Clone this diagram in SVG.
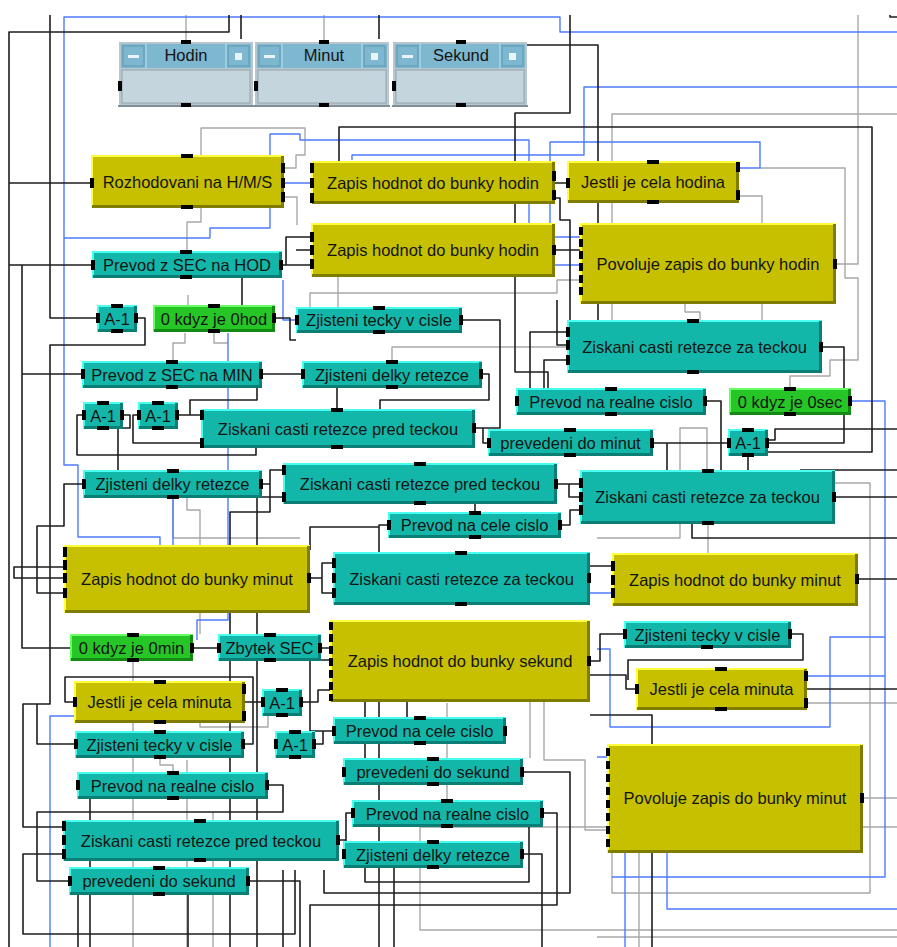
<svg xmlns="http://www.w3.org/2000/svg" width="897" height="947" viewBox="0 0 897 947">
<style>
.k{fill:none;stroke:#1e1e1e;stroke-width:1.6;stroke-linejoin:round}
.g{fill:none;stroke:#a8a8a8;stroke-width:1.4;stroke-linejoin:round}
.b{fill:none;stroke:#4d7bff;stroke-width:1.4;stroke-linejoin:round}
text{font-family:"Liberation Sans",Arial,sans-serif;font-size:16.5px;text-anchor:middle;fill:#141414}
.y{fill:#c6c000}.yl{fill:none;stroke:#ffff40;stroke-width:2}.yd{fill:none;stroke:#7f7c00;stroke-width:3}
.c{fill:#12b7a9}.cl{fill:none;stroke:#48fff0;stroke-width:2}.cd{fill:none;stroke:#0b7f75;stroke-width:3}
.n{fill:#26c626}.nl{fill:none;stroke:#66ff66;stroke-width:2}.nd{fill:none;stroke:#148a14;stroke-width:3}
.p{fill:#000}
.pf{fill:#b9c6ce}.pt{fill:#7db7d0}.pb{fill:#c5d5dd;stroke:#8fa3ae;stroke-width:1}
.ps{stroke:#a9d4e6;stroke-width:1.5}.psh{stroke:#7f8f99;stroke-width:2}
.pd{fill:#e8f4fa}
.pbt{fill:#7db7d0;stroke:#5f98b2;stroke-width:1}
</style>
<rect width="897" height="947" fill="#fff"/>
<g id="connectors">
<path class="g" d="M186,15V42M324,15V42M612,320V114H897M858,15V264H836M305,140V128H201V222H187V251M284,168H296V155H305V140M284,197H297V225M739,196H762V320M760,168H845V278H858V360H830V376H790V388M338,277V307M310,307V293H557V280H580M392,361V347H612M685,304V312H700V320M680,470V428H707V470M708,524V553M597,538H680V524M807,703H897M863,798H897M835,483H870V893H612V853M639,853V947M597,937H897M897,827H420V930H897M447,703V800M133,661V947M187,760V947M160,758V765H173V772M213,812V947M200,722V727H268V716M173,498V538H300M187,498V510H200V634M185,333V343H173V361M214,333V343H228M188,295V305M530,702V758M544,702V760H585V830H607"/>
<path class="b" d="M897,32H560V17H64V465H78V537H160V545M352,160V155H584V87H897M284,183H311M64,238H210V228H270V208M270,155V134H300V140H529V237H580M739,168H760V142H550V265H580M283,280V320H296M228,333V620H197V640M851,401H885V877H612M807,676H885M590,593H612M597,649H610V727H830V637H885M667,853V909H897M625,853V947M597,757H607M74,716H50V947M173,498V545"/>
<path class="k" d="M229,15V32H9V947M50,15V318H97M241,15V39M379,15V39M570,15V113H515V372H548V395M527,45H598V320M339,161V127H872V452H768M890,15V17H897M9,183H91M9,265H92M22,265V648H70M282,265H311M286,265V237H311M296,250H311M555,183H567M555,198H560V220H570V320M555,250H580M137,318H145V345H50V704H23V827H63M22,374H82M262,374H302M83,415H77V455H256V448M122,415H130V428H118V470M138,415H133V443H201M178,415H201M201,415H190V400H257V388M83,484H64V526H37V593H64M64,567H14V578H64M262,484H270V470H283M283,497H257V947M270,484V512H230V947M462,320H500V428H483V443H488M475,428H483M567,332H530V388M567,345H557V300M567,360H544V388M482,374H489V400H380V409M337,388V409M557,484H580M569,484V497H580M561,525H570V510H580M388,525H379V552M475,512V504M310,578H322V563H333M322,578V593H333M310,550V527H379M822,347H844V443H768M768,440H775V429H897M706,401H721V470M653,443H728M667,443V470M748,455V470M835,497H897M800,470H897M692,524V538H897M590,566H612M858,579H897M193,648H218M244,744H253V677H65V702H74M245,702H262M50,704H37V744H75M268,785H283V812H37V881H69M63,854H23V934H295V870M249,881H300V947M320,648H330M310,660H330M310,660V731H333M314,744H323V731M523,772H570V893H324V870M543,813H557V905H310V947M522,854H542V947M339,840H346V813H352M346,840V854H343M590,661H600V634H624M590,675H626V689H636M790,634H803V660H628V680M807,689H897M590,715H652V947M365,702V758M379,702V947M407,702V717M394,868V947M365,861V882H529V827M78,895V947M90,799V820M90,861V947M188,895V947M283,870V947M242,278V305M275,318H290V340H296M302,702H318V690H330"/>
</g>
<g id="hodin">
<rect class="pf" x="119" y="42" width="134" height="63"/>
<rect class="pt" x="121" y="44" width="130" height="24"/>
<path class="ps" d="M146,44V68M226,44V68"/>
<rect class="pbt" x="123" y="46" width="21" height="20"/>
<rect class="pd" x="128" y="55" width="11" height="3"/>
<rect class="pbt" x="228" y="46" width="21" height="20"/>
<rect class="pd" x="235" y="53" width="7" height="7"/>
<rect class="pb" x="122" y="70" width="128" height="33"/>
<path class="psh" d="M118,106H254"/>
<text x="186" y="61">Hodin</text>
<rect class="p" x="181" y="40" width="10" height="4"/><rect class="p" x="181" y="103" width="10" height="4"/><rect class="p" x="118" y="81" width="4" height="10"/>
</g>
<g id="minut">
<rect class="pf" x="255" y="42" width="134" height="63"/>
<rect class="pt" x="257" y="44" width="130" height="24"/>
<path class="ps" d="M282,44V68M362,44V68"/>
<rect class="pbt" x="259" y="46" width="21" height="20"/>
<rect class="pd" x="264" y="55" width="11" height="3"/>
<rect class="pbt" x="364" y="46" width="21" height="20"/>
<rect class="pd" x="371" y="53" width="7" height="7"/>
<rect class="pb" x="258" y="70" width="128" height="33"/>
<path class="psh" d="M254,106H390"/>
<text x="324" y="61">Minut</text>
<rect class="p" x="319" y="40" width="10" height="4"/><rect class="p" x="319" y="103" width="10" height="4"/><rect class="p" x="254" y="81" width="4" height="10"/>
</g>
<g id="sekund">
<rect class="pf" x="393" y="42" width="134" height="63"/>
<rect class="pt" x="395" y="44" width="130" height="24"/>
<path class="ps" d="M420,44V68M500,44V68"/>
<rect class="pbt" x="397" y="46" width="21" height="20"/>
<rect class="pd" x="402" y="55" width="11" height="3"/>
<rect class="pbt" x="502" y="46" width="21" height="20"/>
<rect class="pd" x="509" y="53" width="7" height="7"/>
<rect class="pb" x="396" y="70" width="128" height="33"/>
<path class="psh" d="M392,106H528"/>
<text x="461" y="61">Sekund</text>
<rect class="p" x="456" y="40" width="10" height="4"/><rect class="p" x="456" y="103" width="10" height="4"/><rect class="p" x="392" y="81" width="4" height="10"/>
</g>
<g id="n4"><rect class="y" x="91" y="155" width="193" height="53"/><path class="yl" d="M92,208V156H284"/><path class="yd" d="M92,206.5H282.5V156"/><text x="187.5" y="187.5">Rozhodovani na H/M/S</text><rect class="p" x="181" y="154" width="12" height="4"/><rect class="p" x="181" y="205" width="12" height="4"/><rect class="p" x="90" y="178" width="4" height="10"/><rect class="p" x="281" y="163" width="4" height="10"/><rect class="p" x="281" y="178" width="4" height="10"/><rect class="p" x="281" y="192" width="4" height="10"/></g>
<g id="n5"><rect class="c" x="92" y="251" width="190" height="27"/><path class="cl" d="M93,278V252H282"/><path class="cd" d="M93,276.5H280.5V252"/><text x="187" y="270.5">Prevod z SEC na HOD</text><rect class="p" x="180" y="250" width="12" height="4"/><rect class="p" x="180" y="275" width="12" height="4"/><rect class="p" x="91" y="260" width="4" height="10"/><rect class="p" x="279" y="260" width="4" height="10"/></g>
<g id="n6"><rect class="c" x="97" y="305" width="40" height="27"/><path class="cl" d="M98,332V306H137"/><path class="cd" d="M98,330.5H135.5V306"/><text x="117" y="324.5">A-1</text><rect class="p" x="111" y="304" width="12" height="4"/><rect class="p" x="111" y="329" width="12" height="4"/><rect class="p" x="96" y="313" width="4" height="10"/><rect class="p" x="134" y="313" width="4" height="10"/></g>
<g id="n7"><rect class="n" x="153" y="305" width="122" height="27"/><path class="nl" d="M154,332V306H275"/><path class="nd" d="M154,330.5H273.5V306"/><text x="214" y="324.5">0 kdyz je 0hod</text><rect class="p" x="208" y="304" width="12" height="4"/><rect class="p" x="208" y="329" width="12" height="4"/><rect class="p" x="272" y="313" width="4" height="10"/></g>
<g id="n8"><rect class="c" x="296" y="307" width="166" height="26"/><path class="cl" d="M297,333V308H462"/><path class="cd" d="M297,331.5H460.5V308"/><text x="379" y="326">Zjisteni tecky v cisle</text><rect class="p" x="373" y="306" width="12" height="4"/><rect class="p" x="373" y="330" width="12" height="4"/><rect class="p" x="295" y="315" width="4" height="10"/><rect class="p" x="459" y="315" width="4" height="10"/></g>
<g id="n9"><rect class="y" x="311" y="161" width="244" height="43"/><path class="yl" d="M312,204V162H555"/><path class="yd" d="M312,202.5H553.5V162"/><text x="433" y="188.5">Zapis hodnot do bunky hodin</text><rect class="p" x="310" y="163" width="4" height="10"/><rect class="p" x="310" y="178" width="4" height="10"/><rect class="p" x="310" y="193" width="4" height="10"/><rect class="p" x="552" y="171" width="4" height="10"/><rect class="p" x="552" y="190" width="4" height="10"/></g>
<g id="n10"><rect class="y" x="567" y="161" width="172" height="42"/><path class="yl" d="M568,203V162H739"/><path class="yd" d="M568,201.5H737.5V162"/><text x="653" y="188">Jestli je cela hodina</text><rect class="p" x="647" y="160" width="12" height="4"/><rect class="p" x="647" y="200" width="12" height="4"/><rect class="p" x="566" y="178" width="4" height="10"/><rect class="p" x="736" y="162" width="4" height="10"/><rect class="p" x="736" y="190" width="4" height="10"/></g>
<g id="n11"><rect class="y" x="311" y="223" width="244" height="54"/><path class="yl" d="M312,277V224H555"/><path class="yd" d="M312,275.5H553.5V224"/><text x="433" y="256">Zapis hodnot do bunky hodin</text><rect class="p" x="310" y="232" width="4" height="10"/><rect class="p" x="310" y="245" width="4" height="10"/><rect class="p" x="310" y="259" width="4" height="10"/><rect class="p" x="552" y="245" width="4" height="10"/></g>
<g id="n12"><rect class="y" x="580" y="223" width="256" height="81"/><path class="yl" d="M581,304V224H836"/><path class="yd" d="M581,302.5H834.5V224"/><text x="708" y="270">Povoluje zapis do bunky hodin</text><rect class="p" x="579" y="227" width="4" height="8"/><rect class="p" x="579" y="239" width="4" height="8"/><rect class="p" x="579" y="251" width="4" height="8"/><rect class="p" x="579" y="263" width="4" height="8"/><rect class="p" x="579" y="275" width="4" height="8"/><rect class="p" x="579" y="287" width="4" height="8"/><rect class="p" x="833" y="259" width="4" height="10"/></g>
<g id="n13"><rect class="c" x="567" y="320" width="255" height="53"/><path class="cl" d="M568,373V321H822"/><path class="cd" d="M568,371.5H820.5V321"/><text x="694.5" y="352.5">Ziskani casti retezce za teckou</text><rect class="p" x="687" y="319" width="12" height="4"/><rect class="p" x="687" y="370" width="12" height="4"/><rect class="p" x="566" y="327" width="4" height="10"/><rect class="p" x="566" y="340" width="4" height="10"/><rect class="p" x="566" y="355" width="4" height="10"/><rect class="p" x="819" y="342" width="4" height="10"/></g>
<g id="n14"><rect class="c" x="82" y="361" width="180" height="27"/><path class="cl" d="M83,388V362H262"/><path class="cd" d="M83,386.5H260.5V362"/><text x="172" y="380.5">Prevod z SEC na MIN</text><rect class="p" x="166" y="360" width="12" height="4"/><rect class="p" x="166" y="385" width="12" height="4"/><rect class="p" x="81" y="369" width="4" height="10"/><rect class="p" x="259" y="369" width="4" height="10"/></g>
<g id="n15"><rect class="c" x="302" y="361" width="180" height="27"/><path class="cl" d="M303,388V362H482"/><path class="cd" d="M303,386.5H480.5V362"/><text x="392" y="380.5">Zjisteni delky retezce</text><rect class="p" x="386" y="360" width="12" height="4"/><rect class="p" x="386" y="385" width="12" height="4"/><rect class="p" x="301" y="369" width="4" height="10"/><rect class="p" x="479" y="369" width="4" height="10"/></g>
<g id="n16"><rect class="c" x="516" y="388" width="190" height="27"/><path class="cl" d="M517,415V389H706"/><path class="cd" d="M517,413.5H704.5V389"/><text x="611" y="407.5">Prevod na realne cislo</text><rect class="p" x="605" y="387" width="12" height="4"/><rect class="p" x="605" y="412" width="12" height="4"/><rect class="p" x="515" y="396" width="4" height="10"/><rect class="p" x="703" y="396" width="4" height="10"/></g>
<g id="n17"><rect class="n" x="729" y="388" width="122" height="27"/><path class="nl" d="M730,415V389H851"/><path class="nd" d="M730,413.5H849.5V389"/><text x="790" y="407.5">0 kdyz je 0sec</text><rect class="p" x="784" y="387" width="12" height="4"/><rect class="p" x="784" y="412" width="12" height="4"/><rect class="p" x="848" y="396" width="4" height="10"/></g>
<g id="n18"><rect class="c" x="83" y="402" width="40" height="27"/><path class="cl" d="M84,429V403H123"/><path class="cd" d="M84,427.5H121.5V403"/><text x="103" y="421.5">A-1</text><rect class="p" x="97" y="401" width="12" height="4"/><rect class="p" x="97" y="426" width="12" height="4"/><rect class="p" x="82" y="410" width="4" height="10"/><rect class="p" x="120" y="410" width="4" height="10"/></g>
<g id="n19"><rect class="c" x="138" y="402" width="40" height="27"/><path class="cl" d="M139,429V403H178"/><path class="cd" d="M139,427.5H176.5V403"/><text x="158" y="421.5">A-1</text><rect class="p" x="152" y="401" width="12" height="4"/><rect class="p" x="152" y="426" width="12" height="4"/><rect class="p" x="137" y="410" width="4" height="10"/><rect class="p" x="175" y="410" width="4" height="10"/></g>
<g id="n20"><rect class="c" x="201" y="409" width="274" height="39"/><path class="cl" d="M202,448V410H475"/><path class="cd" d="M202,446.5H473.5V410"/><text x="338" y="434.5">Ziskani casti retezce pred teckou</text><rect class="p" x="331" y="408" width="12" height="4"/><rect class="p" x="331" y="445" width="12" height="4"/><rect class="p" x="200" y="410" width="4" height="10"/><rect class="p" x="200" y="438" width="4" height="10"/><rect class="p" x="472" y="423" width="4" height="10"/></g>
<g id="n21"><rect class="c" x="488" y="429" width="165" height="27"/><path class="cl" d="M489,456V430H653"/><path class="cd" d="M489,454.5H651.5V430"/><text x="570.5" y="448.5">prevedeni do minut</text><rect class="p" x="564" y="428" width="12" height="4"/><rect class="p" x="564" y="453" width="12" height="4"/><rect class="p" x="487" y="438" width="4" height="10"/><rect class="p" x="650" y="438" width="4" height="10"/></g>
<g id="n22"><rect class="c" x="728" y="429" width="40" height="27"/><path class="cl" d="M729,456V430H768"/><path class="cd" d="M729,454.5H766.5V430"/><text x="748" y="448.5">A-1</text><rect class="p" x="742" y="428" width="12" height="4"/><rect class="p" x="742" y="453" width="12" height="4"/><rect class="p" x="727" y="438" width="4" height="10"/><rect class="p" x="765" y="438" width="4" height="10"/></g>
<g id="n23"><rect class="c" x="83" y="470" width="179" height="28"/><path class="cl" d="M84,498V471H262"/><path class="cd" d="M84,496.5H260.5V471"/><text x="172.5" y="490">Zjisteni delky retezce</text><rect class="p" x="167" y="469" width="12" height="4"/><rect class="p" x="167" y="495" width="12" height="4"/><rect class="p" x="82" y="479" width="4" height="10"/><rect class="p" x="259" y="479" width="4" height="10"/></g>
<g id="n24"><rect class="c" x="283" y="463" width="274" height="41"/><path class="cl" d="M284,504V464H557"/><path class="cd" d="M284,502.5H555.5V464"/><text x="420" y="489.5">Ziskani casti retezce pred teckou</text><rect class="p" x="414" y="462" width="12" height="4"/><rect class="p" x="414" y="501" width="12" height="4"/><rect class="p" x="282" y="465" width="4" height="10"/><rect class="p" x="282" y="492" width="4" height="10"/><rect class="p" x="554" y="479" width="4" height="10"/></g>
<g id="n25"><rect class="c" x="580" y="470" width="255" height="54"/><path class="cl" d="M581,524V471H835"/><path class="cd" d="M581,522.5H833.5V471"/><text x="707.5" y="503">Ziskani casti retezce za teckou</text><rect class="p" x="702" y="469" width="12" height="4"/><rect class="p" x="702" y="521" width="12" height="4"/><rect class="p" x="579" y="478" width="4" height="10"/><rect class="p" x="579" y="492" width="4" height="10"/><rect class="p" x="579" y="505" width="4" height="10"/><rect class="p" x="832" y="492" width="4" height="10"/></g>
<g id="n26"><rect class="c" x="388" y="512" width="173" height="26"/><path class="cl" d="M389,538V513H561"/><path class="cd" d="M389,536.5H559.5V513"/><text x="474.5" y="531">Prevod na cele cislo</text><rect class="p" x="469" y="511" width="12" height="4"/><rect class="p" x="469" y="535" width="12" height="4"/><rect class="p" x="387" y="520" width="4" height="10"/><rect class="p" x="558" y="520" width="4" height="10"/></g>
<g id="n27"><rect class="y" x="64" y="545" width="246" height="68"/><path class="yl" d="M65,613V546H310"/><path class="yd" d="M65,611.5H308.5V546"/><text x="187" y="585">Zapis hodnot do bunky minut</text><rect class="p" x="63" y="547" width="4" height="10"/><rect class="p" x="63" y="560" width="4" height="10"/><rect class="p" x="63" y="573" width="4" height="10"/><rect class="p" x="63" y="588" width="4" height="10"/><rect class="p" x="307" y="573" width="4" height="10"/></g>
<g id="n28"><rect class="c" x="333" y="552" width="257" height="53"/><path class="cl" d="M334,605V553H590"/><path class="cd" d="M334,603.5H588.5V553"/><text x="461.5" y="584.5">Ziskani casti retezce za teckou</text><rect class="p" x="455" y="551" width="12" height="4"/><rect class="p" x="455" y="602" width="12" height="4"/><rect class="p" x="332" y="558" width="4" height="10"/><rect class="p" x="332" y="573" width="4" height="10"/><rect class="p" x="332" y="588" width="4" height="10"/><rect class="p" x="587" y="573" width="4" height="10"/></g>
<g id="n29"><rect class="y" x="612" y="553" width="246" height="53"/><path class="yl" d="M613,606V554H858"/><path class="yd" d="M613,604.5H856.5V554"/><text x="735" y="585.5">Zapis hodnot do bunky minut</text><rect class="p" x="611" y="561" width="4" height="10"/><rect class="p" x="611" y="575" width="4" height="10"/><rect class="p" x="611" y="588" width="4" height="10"/><rect class="p" x="855" y="574" width="4" height="10"/></g>
<g id="n30"><rect class="n" x="70" y="634" width="123" height="27"/><path class="nl" d="M71,661V635H193"/><path class="nd" d="M71,659.5H191.5V635"/><text x="131.5" y="653.5">0 kdyz je 0min</text><rect class="p" x="127" y="633" width="12" height="4"/><rect class="p" x="127" y="658" width="12" height="4"/><rect class="p" x="190" y="643" width="4" height="10"/></g>
<g id="n31"><rect class="c" x="218" y="634" width="103" height="27"/><path class="cl" d="M219,661V635H321"/><path class="cd" d="M219,659.5H319.5V635"/><text x="269.5" y="653.5">Zbytek SEC</text><rect class="p" x="264" y="633" width="12" height="4"/><rect class="p" x="264" y="658" width="12" height="4"/><rect class="p" x="217" y="643" width="4" height="10"/><rect class="p" x="318" y="643" width="4" height="10"/></g>
<g id="n32"><rect class="y" x="330" y="620" width="260" height="82"/><path class="yl" d="M331,702V621H590"/><path class="yd" d="M331,700.5H588.5V621"/><text x="460" y="667">Zapis hodnot do bunky sekund</text><rect class="p" x="329" y="622" width="4" height="8"/><rect class="p" x="329" y="634" width="4" height="8"/><rect class="p" x="329" y="646" width="4" height="8"/><rect class="p" x="329" y="658" width="4" height="8"/><rect class="p" x="329" y="670" width="4" height="8"/><rect class="p" x="329" y="682" width="4" height="8"/><rect class="p" x="329" y="694" width="4" height="7"/><rect class="p" x="587" y="656" width="4" height="10"/></g>
<g id="n33"><rect class="c" x="624" y="621" width="167" height="27"/><path class="cl" d="M625,648V622H791"/><path class="cd" d="M625,646.5H789.5V622"/><text x="707.5" y="640.5">Zjisteni tecky v cisle</text><rect class="p" x="701" y="645" width="12" height="4"/><rect class="p" x="623" y="629" width="4" height="10"/><rect class="p" x="788" y="629" width="4" height="10"/></g>
<g id="n34"><rect class="y" x="636" y="668" width="171" height="42"/><path class="yl" d="M637,710V669H807"/><path class="yd" d="M637,708.5H805.5V669"/><text x="721.5" y="695">Jestli je cela minuta</text><rect class="p" x="715" y="667" width="12" height="4"/><rect class="p" x="715" y="707" width="12" height="4"/><rect class="p" x="635" y="684" width="4" height="10"/><rect class="p" x="804" y="671" width="4" height="10"/><rect class="p" x="804" y="698" width="4" height="10"/></g>
<g id="n35"><rect class="y" x="74" y="681" width="171" height="42"/><path class="yl" d="M75,723V682H245"/><path class="yd" d="M75,721.5H243.5V682"/><text x="159.5" y="708">Jestli je cela minuta</text><rect class="p" x="154" y="680" width="12" height="4"/><rect class="p" x="154" y="720" width="12" height="4"/><rect class="p" x="73" y="697" width="4" height="10"/><rect class="p" x="242" y="684" width="4" height="10"/><rect class="p" x="242" y="711" width="4" height="10"/></g>
<g id="n36"><rect class="c" x="262" y="689" width="40" height="27"/><path class="cl" d="M263,716V690H302"/><path class="cd" d="M263,714.5H300.5V690"/><text x="282" y="708.5">A-1</text><rect class="p" x="276" y="688" width="12" height="4"/><rect class="p" x="276" y="713" width="12" height="4"/><rect class="p" x="261" y="697" width="4" height="10"/><rect class="p" x="299" y="697" width="4" height="10"/></g>
<g id="n37"><rect class="c" x="75" y="731" width="169" height="27"/><path class="cl" d="M76,758V732H244"/><path class="cd" d="M76,756.5H242.5V732"/><text x="159.5" y="750.5">Zjisteni tecky v cisle</text><rect class="p" x="154" y="730" width="12" height="4"/><rect class="p" x="154" y="755" width="12" height="4"/><rect class="p" x="74" y="739" width="4" height="10"/><rect class="p" x="241" y="739" width="4" height="10"/></g>
<g id="n38"><rect class="c" x="275" y="731" width="40" height="27"/><path class="cl" d="M276,758V732H315"/><path class="cd" d="M276,756.5H313.5V732"/><text x="295" y="750.5">A-1</text><rect class="p" x="289" y="730" width="12" height="4"/><rect class="p" x="289" y="755" width="12" height="4"/><rect class="p" x="274" y="739" width="4" height="10"/><rect class="p" x="312" y="739" width="4" height="10"/></g>
<g id="n39"><rect class="c" x="333" y="717" width="173" height="27"/><path class="cl" d="M334,744V718H506"/><path class="cd" d="M334,742.5H504.5V718"/><text x="419.5" y="736.5">Prevod na cele cislo</text><rect class="p" x="414" y="716" width="12" height="4"/><rect class="p" x="414" y="741" width="12" height="4"/><rect class="p" x="332" y="726" width="4" height="10"/><rect class="p" x="503" y="726" width="4" height="10"/></g>
<g id="n40"><rect class="c" x="77" y="772" width="191" height="27"/><path class="cl" d="M78,799V773H268"/><path class="cd" d="M78,797.5H266.5V773"/><text x="172.5" y="791.5">Prevod na realne cislo</text><rect class="p" x="167" y="771" width="12" height="4"/><rect class="p" x="167" y="796" width="12" height="4"/><rect class="p" x="76" y="780" width="4" height="10"/><rect class="p" x="265" y="780" width="4" height="10"/></g>
<g id="n41"><rect class="c" x="343" y="758" width="180" height="27"/><path class="cl" d="M344,785V759H523"/><path class="cd" d="M344,783.5H521.5V759"/><text x="433" y="777.5">prevedeni do sekund</text><rect class="p" x="427" y="757" width="12" height="4"/><rect class="p" x="427" y="782" width="12" height="4"/><rect class="p" x="342" y="767" width="4" height="10"/><rect class="p" x="520" y="767" width="4" height="10"/></g>
<g id="n42"><rect class="y" x="607" y="744" width="256" height="109"/><path class="yl" d="M608,853V745H863"/><path class="yd" d="M608,851.5H861.5V745"/><text x="735" y="804">Povoluje zapis do bunky minut</text><rect class="p" x="606" y="748" width="4" height="8"/><rect class="p" x="606" y="761" width="4" height="8"/><rect class="p" x="606" y="774" width="4" height="8"/><rect class="p" x="606" y="787" width="4" height="8"/><rect class="p" x="606" y="800" width="4" height="8"/><rect class="p" x="606" y="813" width="4" height="8"/><rect class="p" x="606" y="826" width="4" height="8"/><rect class="p" x="606" y="839" width="4" height="8"/><rect class="p" x="860" y="793" width="4" height="10"/></g>
<g id="n43"><rect class="c" x="352" y="800" width="191" height="27"/><path class="cl" d="M353,827V801H543"/><path class="cd" d="M353,825.5H541.5V801"/><text x="447.5" y="819.5">Prevod na realne cislo</text><rect class="p" x="441" y="799" width="12" height="4"/><rect class="p" x="441" y="824" width="12" height="4"/><rect class="p" x="351" y="808" width="4" height="10"/><rect class="p" x="540" y="808" width="4" height="10"/></g>
<g id="n44"><rect class="c" x="63" y="820" width="276" height="41"/><path class="cl" d="M64,861V821H339"/><path class="cd" d="M64,859.5H337.5V821"/><text x="201" y="846.5">Ziskani casti retezce pred teckou</text><rect class="p" x="194" y="819" width="12" height="4"/><rect class="p" x="194" y="858" width="12" height="4"/><rect class="p" x="62" y="821" width="4" height="10"/><rect class="p" x="62" y="835" width="4" height="10"/><rect class="p" x="62" y="849" width="4" height="10"/><rect class="p" x="336" y="835" width="4" height="10"/></g>
<g id="n45"><rect class="c" x="343" y="841" width="180" height="27"/><path class="cl" d="M344,868V842H523"/><path class="cd" d="M344,866.5H521.5V842"/><text x="433" y="860.5">Zjisteni delky retezce</text><rect class="p" x="427" y="840" width="12" height="4"/><rect class="p" x="427" y="865" width="12" height="4"/><rect class="p" x="342" y="849" width="4" height="10"/><rect class="p" x="520" y="849" width="4" height="10"/></g>
<g id="n46"><rect class="c" x="69" y="867" width="180" height="28"/><path class="cl" d="M70,895V868H249"/><path class="cd" d="M70,893.5H247.5V868"/><text x="159" y="887">prevedeni do sekund</text><rect class="p" x="153" y="866" width="12" height="4"/><rect class="p" x="153" y="892" width="12" height="4"/><rect class="p" x="68" y="876" width="4" height="10"/><rect class="p" x="246" y="876" width="4" height="10"/></g>
</svg>
